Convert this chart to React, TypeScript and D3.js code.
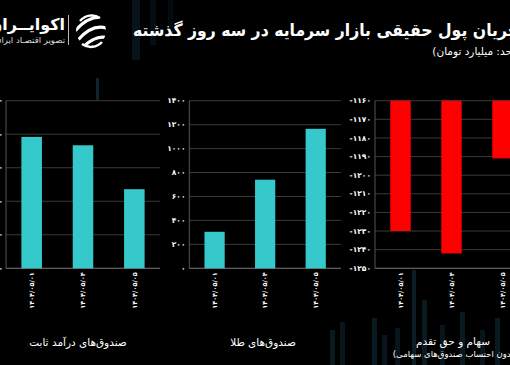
import React from "react";
import * as d3 from "d3";

const W = 510;
const H = 365;

const dates = ["1404/05/01", "1404/05/04", "1404/05/05"];
const fixedIncome = [1960, 1835, 1180];
const gold = [305, 740, 1165];
const stocks = [-1230, -1242, -1191];

const fixedTicks = [0, 500, 1000, 1500, 2000, 2500];
const goldTicks = [0, 200, 400, 600, 800, 1000, 1200, 1400];
const stockTicks = [-1160, -1170, -1180, -1190, -1200, -1210, -1220, -1230, -1240, -1250];

const title = "جریان پول حقیقی بازار سرمایه در سه روز گذشته";
const subtitle = "(واحد: میلیارد تومان)";
const catFixed = "صندوق‌های درآمد ثابت";
const catGold = "صندوق‌های طلا";
const catStocks = "سهام و حق تقدم";
const catStocksNote = "(بدون احتساب صندوق‌های سهامی)";
const brand = "اکوایــران";
const brandSub = "تصویر اقتصـاد ایران";

// decorative background strips [x, y, w, h, opacity]
const bgStrips: number[][] = [
  [96, 78, 3, 22, 0.5],
  [132, 0, 8, 60, 0.25],
  [150, 0, 6, 45, 0.2],
  [168, 0, 5, 35, 0.15],
  [330, 330, 5, 35, 0.35],
  [340, 322, 5, 43, 0.3],
  [372, 318, 5, 47, 0.35],
  [382, 335, 5, 30, 0.3],
  [395, 328, 5, 37, 0.3],
  [412, 270, 4, 95, 0.4],
  [422, 300, 5, 65, 0.35],
  [440, 325, 5, 40, 0.3],
  [460, 312, 5, 53, 0.35],
  [480, 330, 5, 35, 0.3],
  [495, 318, 5, 47, 0.35],
];

const fa = (s: string | number) =>
  String(s).replace(/[0-9]/g, (d) => "۰۱۲۳۴۵۶۷۸۹"[+d]);

const FONT = "'DejaVu Sans', sans-serif";
const TEAL = "#35c9cb";
const RED = "#ff0000";
const GRID = "#3a3a3a";

type PanelProps = {
  x0: number;
  x1: number;
  y0: number;
  y1: number;
  values: number[];
  ticks: number[];
  domain: [number, number];
  color: string;
  fromTop?: boolean;
  labelX: number;
};

function Panel({ x0, x1, y0, y1, values, ticks, domain, color, fromTop, labelX }: PanelProps) {
  const x = d3.scaleBand<string>().domain(dates).range([x0, x1]).paddingInner(0.6).paddingOuter(0.3);
  const y = d3.scaleLinear().domain(domain).range([y1, y0]);
  return (
    <g>
      {ticks.map((t) => (
        <g key={t}>
          <line x1={x0} x2={x1} y1={y(t)} y2={y(t)} stroke={GRID} strokeWidth={1} />
          <text
            x={labelX}
            y={y(t)}
            dy="0.35em"
            textAnchor="end"
            fill="#fff"
            fontSize={7.5}
            fontWeight="bold"
            fontFamily={FONT}
            direction="ltr"
          >
            {fa(t < 0 ? "-" + Math.abs(t) : t)}
          </text>
        </g>
      ))}
      <line x1={x0} x2={x0} y1={y0} y2={y1} stroke="#555" strokeWidth={1} />
      <line x1={x0} x2={x1} y1={y1} y2={y1} stroke="#6a6a6a" strokeWidth={1} />
      {values.map((v, i) => {
        const top = fromTop ? y(domain[1]) : y(v);
        const bottom = fromTop ? y(v) : y(domain[0]);
        return (
          <rect
            key={i}
            x={x(dates[i])}
            y={top}
            width={x.bandwidth()}
            height={bottom - top}
            fill={color}
          />
        );
      })}
      {dates.map((d) => {
        const cx = (x(d) as number) + x.bandwidth() / 2;
        return (
          <text
            key={d}
            transform={`translate(${cx},${y1 + 4}) rotate(-90)`}
            textAnchor="end"
            dy="0.35em"
            fill="#fff"
            fontSize={6.5}
            fontWeight="bold"
            fontFamily={FONT}
            direction="ltr"
          >
            {fa(d)}
          </text>
        );
      })}
    </g>
  );
}

export default function App() {
  const y0 = 100.7;
  const y1 = 268.3;
  return (
    <svg
      width={W}
      height={H}
      style={{ position: "absolute", left: 0, top: 0, background: "#000" }}
    >
      <rect width={W} height={H} fill="#000" />
      {bgStrips.map((s, i) => (
        <rect key={i} x={s[0]} y={s[1]} width={s[2]} height={s[3]} fill="#1b4a5e" opacity={s[4]} />
      ))}

      {/* Logo */}
      <g>
        <text x={65} y={30} textAnchor="start" direction="rtl" fill="#fff" fontSize={16} fontWeight="bold" fontFamily={FONT}>
          {brand}
        </text>
        <text x={65} y={43} textAnchor="start" direction="rtl" fill="#ddd" fontSize={8.5} fontFamily={FONT}>
          {brandSub}
        </text>
        <line x1={68.5} x2={68.5} y1={15} y2={45} stroke="#bbb" strokeWidth={1} />
        <clipPath id="logoClip">
          <circle cx={91} cy={31} r={15} />
        </clipPath>
        <g clipPath="url(#logoClip)" stroke="#fff" strokeWidth={3.2} fill="none" strokeLinecap="round">
          <path d="M76,30 Q90,14 106,18" />
          <path d="M78,40 Q92,24 106,28" />
          <path d="M82,48 Q96,34 108,38" />
        </g>
        <path d="M80,21 A15,15 0 0 1 100,18" stroke="#fff" strokeWidth={2.5} fill="none" />
        <path d="M102,42 A15,15 0 0 1 82,44" stroke="#fff" strokeWidth={2.5} fill="none" />
      </g>

      {/* Title */}
      <text
        x={519}
        y={36}
        textAnchor="start"
        direction="rtl"
        fill="#fff"
        fontSize={17}
        fontWeight="bold"
        fontFamily={FONT}
        textLength={386}
        lengthAdjust="spacingAndGlyphs"
      >
        {title}
      </text>
      <text x={524} y={55} textAnchor="start" direction="rtl" fill="#fff" fontSize={10.5} fontFamily={FONT}>
        {subtitle}
      </text>

      <Panel x0={6} x1={160} y0={y0} y1={y1} values={fixedIncome} ticks={fixedTicks} domain={[0, 2500]} color={TEAL} labelX={3} />
      <Panel x0={189.3} x1={341} y0={y0} y1={y1} values={gold} ticks={goldTicks} domain={[0, 1400]} color={TEAL} labelX={185.5} />
      <Panel x0={375} x1={528} y0={y0} y1={y1} values={stocks} ticks={stockTicks} domain={[-1250, -1160]} color={RED} fromTop labelX={371} />

      {/* Category titles */}
      <text x={78} y={346} textAnchor="middle" direction="rtl" fill="#fff" fontSize={10.5} fontFamily={FONT}>
        {catFixed}
      </text>
      <text x={263} y={346} textAnchor="middle" direction="rtl" fill="#fff" fontSize={10.5} fontFamily={FONT}>
        {catGold}
      </text>
      <text x={453} y={345} textAnchor="middle" direction="rtl" fill="#fff" fontSize={10.5} fontFamily={FONT}>
        {catStocks}
      </text>
      <text x={517} y={357} textAnchor="start" direction="rtl" fill="#fff" fontSize={8.5} fontFamily={FONT}>
        {catStocksNote}
      </text>
    </svg>
  );
}
